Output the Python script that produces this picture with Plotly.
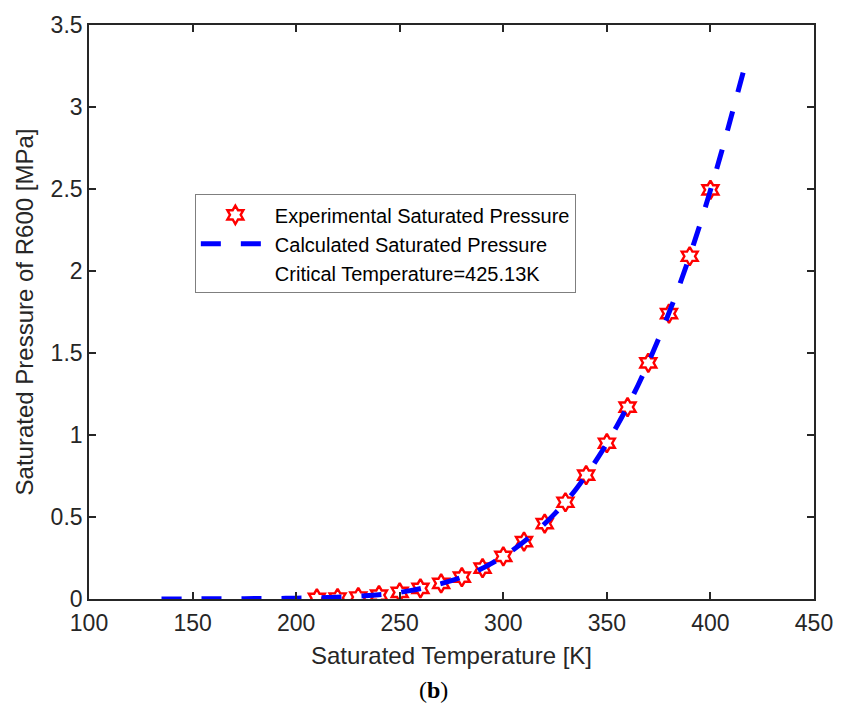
import plotly.graph_objects as go

# Experimental saturated pressure of R600
exp_T = [210, 220, 230, 240, 250, 260, 270, 280, 290, 300,
         310, 320, 330, 340, 350, 360, 370, 380, 390, 400]
exp_P = [0.004, 0.006, 0.012, 0.024, 0.040, 0.065, 0.095, 0.133, 0.188, 0.260,
         0.350, 0.460, 0.590, 0.755, 0.950, 1.170, 1.440, 1.740, 2.090, 2.495]

# Calculated saturated pressure curve
calc_T = [135, 145, 155, 165, 175, 185, 195, 205, 215, 225, 235, 245, 255, 265,
          275, 285, 295, 305, 315, 325, 335, 345, 355, 365, 375, 385, 395, 405,
          410, 416]
calc_P = [0.000, 0.000, 0.001, 0.001, 0.002, 0.003, 0.004, 0.006, 0.009, 0.014,
          0.021, 0.032, 0.051, 0.078, 0.112, 0.158, 0.222, 0.302, 0.402, 0.522,
          0.668, 0.848, 1.058, 1.302, 1.588, 1.912, 2.285, 2.710, 2.940, 3.220]

x_ticks = [100, 150, 200, 250, 300, 350, 400, 450]
y_ticks = [0, 0.5, 1, 1.5, 2, 2.5, 3, 3.5]
y_tick_text = ["0", "0.5", "1", "1.5", "2", "2.5", "3", "3.5"]

FONT = "Liberation Sans, Arial, sans-serif"
AX = "#262626"

fig = go.Figure()
fig.add_trace(go.Scatter(
    x=exp_T, y=exp_P, mode="markers", name="Experimental Saturated Pressure",
    marker=dict(symbol="hexagram-open", size=14, color="red",
                line=dict(color="red", width=2.4))))
fig.add_trace(go.Scatter(
    x=calc_T, y=calc_P, mode="lines", name="Calculated Saturated Pressure",
    line=dict(color="#0000ff", width=5, dash="20px,20px", shape="spline")))
fig.add_trace(go.Scatter(
    x=[None], y=[None], mode="lines", name="Critical Temperature=425.13K",
    line=dict(color="rgba(0,0,0,0)", width=0)))

axis_common = dict(
    showline=True, linecolor=AX, linewidth=1.6, mirror="allticks",
    ticks="inside", ticklen=7, tickwidth=1.6, tickcolor=AX,
    showgrid=False, zeroline=False,
    tickfont=dict(family=FONT, size=23, color=AX),
)

fig.update_layout(
    width=845, height=715,
    margin=dict(l=89, r=24, t=20, b=116),
    paper_bgcolor="white", plot_bgcolor="white",
    font=dict(family=FONT, color=AX),
    xaxis=dict(range=[100, 450], tickvals=x_ticks, ticklabelstandoff=3,
               title=dict(text="Saturated Temperature [K]",
                          font=dict(family=FONT, size=24, color=AX), standoff=12),
               **axis_common),
    yaxis=dict(range=[0, 3.5], tickvals=y_ticks, ticktext=y_tick_text,
               title=dict(text="Saturated Pressure of R600 [MPa]",
                          font=dict(family=FONT, size=24, color=AX), standoff=10),
               **axis_common),
    legend=dict(x=0.146, y=0.705, xanchor="left", yanchor="top",
                bgcolor="white", bordercolor="#7f7f7f", borderwidth=1,
                font=dict(family=FONT, size=20, color="black"),
                itemwidth=69),
    showlegend=True,
)

fig.add_annotation(text="(<b>b</b>)", xref="paper", yref="paper",
                   x=0.475, y=-0.158, showarrow=False, yanchor="middle",
                   font=dict(family="Liberation Serif, Times New Roman, serif",
                             size=24, color="black"))

fig.write_html("out.html")
